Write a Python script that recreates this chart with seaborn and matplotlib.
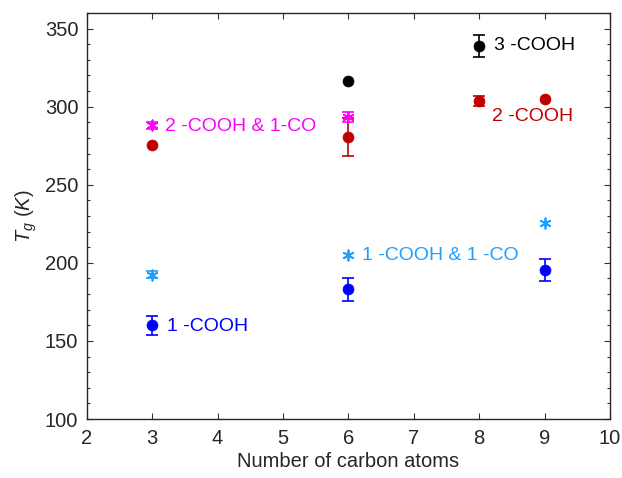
import matplotlib
matplotlib.use("Agg")
import matplotlib.pyplot as plt
import seaborn as sns
import pandas as pd
import numpy as np
from matplotlib.ticker import MultipleLocator

# ---- data ----
x_1cooh = [3, 6, 9]
y_1cooh = [160, 183, 195.5]
e_1cooh = [6, 7.5, 7]

x_2cooh = [3, 6, 8, 9]
y_2cooh = [275.5, 280.5, 303.5, 305]
e_2cooh = [0, 12, 3.2, 0]

x_3cooh = [6, 8]
y_3cooh = [316.5, 339]
e_3cooh = [0, 7]

x_2cooh_1co = [3, 6]
y_2cooh_1co = [288, 293.5]
e_2cooh_1co = [2, 3]

x_1cooh_1co = [3, 6, 9]
y_1cooh_1co = [192.5, 205, 225.5]
e_1cooh_1co = [2, 0, 0]

series_names = ["1 -COOH", "2 -COOH", "3 -COOH", "2 -COOH & 1-CO", "1 -COOH & 1 -CO"]
series_colors = ["#0000FF", "#C00000", "#000000", "#FF00FF", "#1EA0FF"]

sns.set_theme(style="ticks")
plt.rcParams['font.family'] = ['Liberation Sans', 'DejaVu Sans']
plt.rcParams['mathtext.fontset'] = 'custom'
plt.rcParams['mathtext.it'] = 'Liberation Sans:italic'
plt.rcParams['mathtext.rm'] = 'Liberation Sans'

frames = []
for name, xs, ys, es in zip(series_names,
                            [x_1cooh, x_2cooh, x_3cooh, x_2cooh_1co, x_1cooh_1co],
                            [y_1cooh, y_2cooh, y_3cooh, y_2cooh_1co, y_1cooh_1co],
                            [e_1cooh, e_2cooh, e_3cooh, e_2cooh_1co, e_1cooh_1co]):
    frames.append(pd.DataFrame({"n": xs, "Tg": ys, "err": es, "series": name}))
df = pd.concat(frames, ignore_index=True)

fig = plt.figure(figsize=(6.22, 4.78), dpi=100)
ax = fig.add_axes([0.1394, 0.1234, 0.9807 - 0.1394, 0.9728 - 0.1234])

asterisk = (6, 2, 0)
for name, col in zip(series_names, series_colors):
    sub = df[df.series == name]
    is_ast = "CO" in name.replace("COOH", "")
    eb = sub[sub.err > 0]
    if len(eb):
        ax.errorbar(eb.n, eb.Tg, yerr=eb.err, fmt="none", ecolor=col,
                    elinewidth=1.2, capsize=4, capthick=1.2, zorder=2)
    if is_ast:
        sns.scatterplot(data=sub, x="n", y="Tg", ax=ax, marker=asterisk,
                        s=55, color=col, edgecolor=col, linewidth=1.3, zorder=3, legend=False)
    else:
        sns.scatterplot(data=sub, x="n", y="Tg", ax=ax, marker="o",
                        s=62, color=col, edgecolor=col, linewidth=0.5, zorder=3, legend=False)

labels_pos = {
    "2 -COOH & 1-CO": (3.2, 287),
    "3 -COOH": (8.22, 339),
    "2 -COOH": (8.2, 293.5),
    "1 -COOH & 1 -CO": (6.21, 204.5),
    "1 -COOH": (3.22, 159.5),
}
for name, col in zip(series_names, series_colors):
    tx, ty = labels_pos[name]
    ax.text(tx, ty, name, color=col, fontsize=14, va="center", ha="left")

ax.set_xlim(2, 10)
ax.set_ylim(100, 360)
ax.xaxis.set_major_locator(MultipleLocator(1))
ax.yaxis.set_major_locator(MultipleLocator(50))
ax.yaxis.set_minor_locator(MultipleLocator(10))
ax.set_yticks([100, 150, 200, 250, 300, 350])
ax.tick_params(which="both", direction="in", top=True, right=True, labelsize=14.5,
               color="#333333", labelcolor="#262626", width=0.8)
ax.tick_params(which="major", length=4)
ax.tick_params(which="minor", length=2)
ax.tick_params(axis="x", which="major", pad=7)
ax.tick_params(axis="y", which="major", pad=6)
for sp in ax.spines.values():
    sp.set_linewidth(1.0)
    sp.set_color("#262626")

ax.set_xlabel("Number of carbon atoms", fontsize=14.5, color="#262626", labelpad=3)
ax.set_ylabel(r"$T_g$ $(K)$", fontsize=14.5, color="#262626", labelpad=4)

fig.savefig("out.png", dpi=100)
